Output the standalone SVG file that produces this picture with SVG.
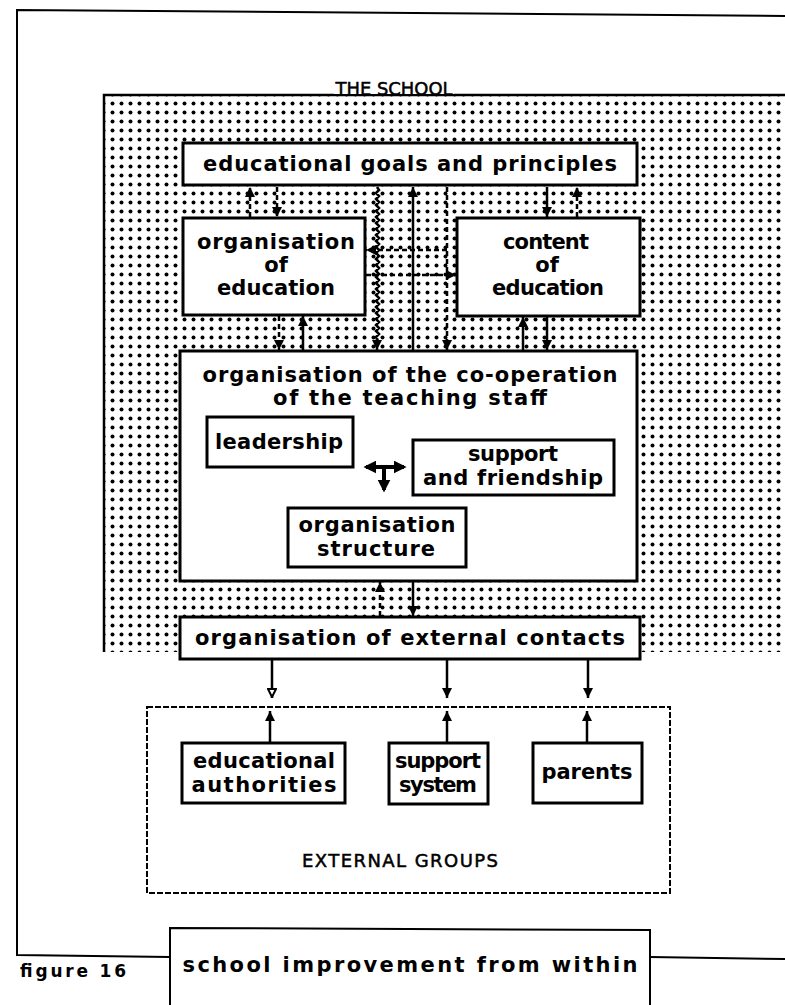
<svg xmlns="http://www.w3.org/2000/svg" width="785" height="1005" viewBox="0 0 785 1005">
  <defs>
    <pattern id="dots" width="9" height="9" patternUnits="userSpaceOnUse">
      <rect width="9" height="9" fill="#fff"/>
      <circle cx="4.5" cy="4.5" r="2" fill="#000"/>
    </pattern>
    <marker id="ah" viewBox="0 0 10 10" refX="10" refY="5" markerWidth="10" markerHeight="10" markerUnits="userSpaceOnUse" orient="auto-start-reverse">
      <path d="M0,0 L10,5 L0,10 z" fill="#000"/>
    </marker>
    <marker id="ahOpen" viewBox="0 0 10 10" refX="10" refY="5" markerWidth="10" markerHeight="10" markerUnits="userSpaceOnUse" orient="auto">
      <path d="M1,1 L9,5 L1,9 z" fill="#fff" stroke="#000" stroke-width="2"/>
    </marker>
    <marker id="ahBig" viewBox="0 0 10 10" refX="8" refY="5" markerWidth="13" markerHeight="13" markerUnits="userSpaceOnUse" orient="auto-start-reverse">
      <path d="M0,0 L10,5 L0,10 z" fill="#000"/>
    </marker>
  </defs>
  <style>
    .box { fill: #fff; stroke: #000; stroke-width: 3; }
    .frame { fill: none; stroke: #000; stroke-width: 2; }
    .lbl { font-family: "DejaVu Sans", "Liberation Sans", sans-serif; font-weight: bold; font-size: 21px; fill: #000; text-anchor: middle; }
    .caps { font-family: "DejaVu Sans", "Liberation Sans", sans-serif; font-size: 18px; fill: #000; stroke: #000; stroke-width: 0.5; text-anchor: middle; }
    .conn { fill: none; stroke: #000; stroke-width: 2.5; }
    .dash { stroke-dasharray: 5 3; }
    .wavy { fill: none; stroke: #000; stroke-width: 2.5; }
  </style>

  <!-- outer frame and caption -->
  <g id="frame">
    <path class="frame" d="M785,16 L17,10 L17,955 L170,957"/>
    <path class="frame" d="M170,1005 L170,928 L650,930 L650,1005"/>
    <path class="frame" d="M650,957 L785,959"/>
    <text x="20" y="977" font-family="DejaVu Sans, sans-serif" font-weight="bold" font-size="17" textLength="106" lengthAdjust="spacing">figure 16</text>
    <text x="410" y="972" class="lbl" font-size="22" textLength="455" lengthAdjust="spacing">school improvement from within</text>
  </g>

  <!-- the school: dotted field -->
  <g id="school">
    <rect x="104" y="95" width="681" height="557" fill="url(#dots)"/>
    <path d="M104,652 L104,95 L785,95" fill="none" stroke="#000" stroke-width="2.5"/>
    <rect x="334" y="78" width="120" height="16" fill="#fff"/>
    <text x="394" y="95" class="caps" textLength="117" lengthAdjust="spacingAndGlyphs">THE SCHOOL</text>
  </g>

  <g id="goals">
    <rect class="box" x="183" y="143" width="454" height="42"/>
    <text x="410" y="171" class="lbl" textLength="414" lengthAdjust="spacing">educational goals and principles</text>
  </g>

  <g id="organisation-of-education">
    <rect class="box" x="183" y="218" width="182" height="97"/>
    <text x="276" y="249" class="lbl" textLength="158" lengthAdjust="spacing">organisation</text>
    <text x="276" y="272" class="lbl">of</text>
    <text x="276" y="295" class="lbl" textLength="118" lengthAdjust="spacing">education</text>
  </g>

  <g id="content-of-education">
    <rect class="box" x="457" y="218" width="183" height="98"/>
    <text x="546" y="249" class="lbl" textLength="86" lengthAdjust="spacing">content</text>
    <text x="547" y="272" class="lbl">of</text>
    <text x="548" y="295" class="lbl" textLength="112" lengthAdjust="spacing">education</text>
  </g>

  <g id="teaching-staff">
    <rect class="box" x="180" y="351" width="457" height="230"/>
    <text x="410" y="382" class="lbl" textLength="415" lengthAdjust="spacing">organisation of the co-operation</text>
    <text x="410" y="405" class="lbl" textLength="274" lengthAdjust="spacing">of the teaching staff</text>
  </g>

  <g id="leadership">
    <rect class="box" x="207" y="417" width="146" height="50"/>
    <text x="279" y="449" class="lbl" textLength="128" lengthAdjust="spacing">leadership</text>
  </g>

  <g id="support-and-friendship">
    <rect class="box" x="413" y="440" width="201" height="55"/>
    <text x="513" y="461" class="lbl" textLength="90" lengthAdjust="spacing">support</text>
    <text x="513" y="485" class="lbl" textLength="180" lengthAdjust="spacing">and friendship</text>
  </g>

  <g id="organisation-structure">
    <rect class="box" x="288" y="508" width="178" height="59"/>
    <text x="377" y="532" class="lbl" textLength="157" lengthAdjust="spacing">organisation</text>
    <text x="376" y="556" class="lbl" textLength="118" lengthAdjust="spacing">structure</text>
  </g>

  <g id="external-contacts">
    <rect class="box" x="180" y="617" width="460" height="42"/>
    <text x="410" y="645" class="lbl" textLength="430" lengthAdjust="spacing">organisation of external contacts</text>
  </g>

  <g id="external-groups">
    <rect x="147" y="707" width="523" height="186" fill="none" stroke="#000" stroke-width="2" stroke-dasharray="6 2"/>
    <text x="400" y="867" class="caps" textLength="196" lengthAdjust="spacing">EXTERNAL GROUPS</text>
  </g>

  <g id="educational-authorities">
    <rect class="box" x="182" y="743" width="163" height="60"/>
    <text x="264" y="768" class="lbl" textLength="142" lengthAdjust="spacing">educational</text>
    <text x="264" y="792" class="lbl" textLength="145" lengthAdjust="spacing">authorities</text>
  </g>

  <g id="support-system">
    <rect class="box" x="389" y="743" width="99" height="61"/>
    <text x="438" y="768" class="lbl" textLength="86" lengthAdjust="spacing">support</text>
    <text x="438" y="792" class="lbl" textLength="78" lengthAdjust="spacing">system</text>
  </g>

  <g id="parents">
    <rect class="box" x="533" y="743" width="109" height="60"/>
    <text x="587" y="779" class="lbl" textLength="91" lengthAdjust="spacing">parents</text>
  </g>

  <!-- connectors -->
  <g id="connectors">
    <!-- goals <-> organisation of education -->
    <line class="conn dash" x1="250" y1="217" x2="250" y2="187" marker-end="url(#ah)"/>
    <line class="conn dash" x1="277" y1="187" x2="277" y2="217" marker-end="url(#ah)"/>
    <!-- goals <-> content of education -->
    <line class="conn" x1="547" y1="187" x2="547" y2="217" marker-end="url(#ah)"/>
    <line class="conn dash" x1="577" y1="217" x2="577" y2="187" marker-end="url(#ah)"/>
    <!-- goals <-> teaching staff (centre channel) -->
    <path class="wavy" d="M377,187 l2,3 l-3,3 l3,3 l-3,3 l3,3 l-3,3 l3,3 l-3,3 l3,3 l-3,3 l3,3 l-3,3 l3,3 l-3,3 l3,3 l-3,3 l3,3 l-3,3 l3,3 l-3,3 l3,3 l-3,3 l3,3 l-3,3 l3,3 l-3,3 l3,3 l-3,3 l3,3 l-3,3 l3,3 l-3,3 l3,3 l-3,3 l3,3 l-3,3 l3,3 l-3,3 l3,3 l-3,3 l3,3 l-3,3 l3,3 l-3,3 l3,3 l-3,3 l3,3 l-3,3 l3,3 l-3,3 l2,4"/>
    <line class="conn" x1="377" y1="338" x2="377" y2="350" marker-end="url(#ah)"/>
    <line class="conn" x1="413" y1="350" x2="413" y2="187" marker-end="url(#ah)"/>
    <line class="conn dash" x1="447" y1="187" x2="447" y2="350" marker-end="url(#ah)"/>
    <!-- organisation <-> content -->
    <line class="conn dash" x1="447" y1="250" x2="366" y2="250" marker-end="url(#ah)"/>
    <line class="conn dash" x1="366" y1="275" x2="456" y2="275" marker-end="url(#ah)"/>
    <!-- organisation of education <-> teaching staff -->
    <line class="conn dash" x1="279" y1="316" x2="279" y2="350" marker-end="url(#ah)"/>
    <line class="conn" x1="303" y1="350" x2="303" y2="316" marker-end="url(#ah)"/>
    <!-- content of education <-> teaching staff -->
    <line class="conn" x1="523" y1="350" x2="523" y2="317" marker-end="url(#ah)"/>
    <line class="conn" x1="547" y1="317" x2="547" y2="350" marker-end="url(#ah)"/>
    <!-- relations inside the staff -->
    <line x1="366" y1="467" x2="404" y2="467" stroke="#000" stroke-width="4" marker-start="url(#ahBig)" marker-end="url(#ahBig)"/>
    <line x1="384" y1="467" x2="384" y2="490" stroke="#000" stroke-width="4" marker-end="url(#ahBig)"/>
    <!-- teaching staff <-> external contacts -->
    <line class="conn dash" x1="380" y1="616" x2="380" y2="582" marker-end="url(#ah)"/>
    <line class="conn" x1="413" y1="582" x2="413" y2="616" marker-end="url(#ah)"/>
    <!-- external contacts -> external groups -->
    <line class="conn" x1="272" y1="660" x2="272" y2="698" marker-end="url(#ahOpen)"/>
    <line class="conn" x1="447" y1="660" x2="447" y2="698" marker-end="url(#ah)"/>
    <line class="conn" x1="588" y1="660" x2="588" y2="698" marker-end="url(#ah)"/>
    <!-- external groups -> external contacts -->
    <line class="conn" x1="270" y1="742" x2="270" y2="711" marker-end="url(#ah)"/>
    <line class="conn" x1="447" y1="742" x2="447" y2="711" marker-end="url(#ah)"/>
    <line class="conn" x1="587" y1="742" x2="587" y2="711" marker-end="url(#ah)"/>
  </g>
</svg>
